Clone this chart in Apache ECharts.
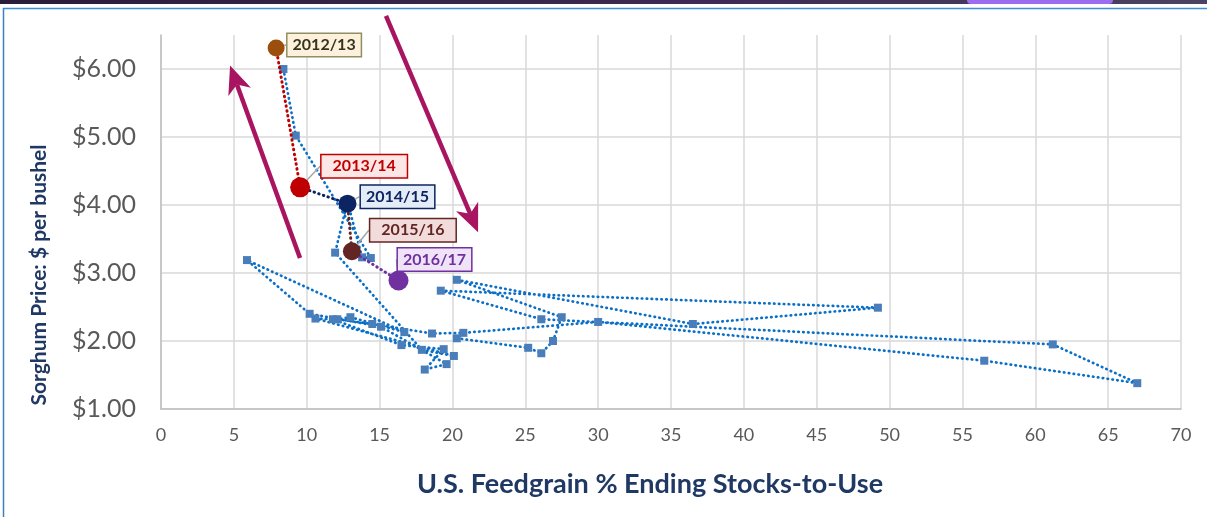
<!DOCTYPE html>
<html>
<head>
<meta charset="utf-8">
<title>Sorghum price vs feedgrain stocks-to-use</title>
<script src="https://cdn.jsdelivr.net/npm/echarts@6/dist/echarts.min.js"></script>
<style>
  html, body { margin: 0; padding: 0; background: #fff; }
  #chart { width: 1207px; height: 517px; }
</style>
</head>
<body>
<div id="chart"></div>
<script>
// historical path (blue), in drawing order
const histStocks = [20.3, 25.2, 26.1, 26.9, 27.5, 20.3, 36.5, 49.2, 19.2, 26.1, 61.2, 67.0, 56.5,
  30.0, 20.75, 18.6, 14.5, 12.1, 13.0, 16.7, 5.9, 10.2, 15.1, 19.6, 18.1, 19.4, 16.5,
  11.8, 10.6, 20.1, 17.9, 11.95, 12.8, 13.8, 14.4, 9.25, 8.4]
const histPrice = [2.04, 1.90, 1.82, 2.00, 2.35, 2.90, 2.25, 2.49, 2.74, 2.32, 1.95, 1.38, 1.71,
  2.28, 2.12, 2.11, 2.25, 2.32, 2.35, 2.13, 3.19, 2.40, 2.21, 1.66, 1.58, 1.88, 1.94,
  2.32, 2.33, 1.78, 1.87, 3.30, 4.05, 3.23, 3.22, 5.02, 6.00]

// recent marketing years
const recentYears = ['2012/13', '2013/14', '2014/15', '2015/16', '2016/17']
const recentStocks = [7.9, 9.55, 12.8, 13.1, 16.3]
const recentPrice = [6.31, 4.26, 4.02, 3.32, 2.89]

const xTicks = [0, 70, 5]
const yTicks = [1, 6.5, 1]

// look of each recent year
const yearLook = [
  { dot: '#9c4f0c', size: 17, text: '#34361c', fill: '#fdf0dc', border: '#8f8f62', pad: [3, 5], dx: 48, dy: -3 },
  { dot: '#c00000', size: 20, text: '#c00000', fill: '#fde6e6', border: '#c00000', pad: [3, 11], dx: 64, dy: -21 },
  { dot: '#0c2461', size: 18, text: '#0c2461', fill: '#e4ecf8', border: '#0c2461', pad: [3, 5], dx: 50, dy: -7 },
  { dot: '#632523', size: 18, text: '#632523', fill: '#f2dcdb', border: '#632523', pad: [3, 11], dx: 61, dy: -21 },
  { dot: '#7030a0', size: 20, text: '#7030a0', fill: '#efe4f7', border: '#7030a0', pad: [3, 5], dx: 36, dy: -21 }
]

const dots = (w) => ({ width: w, type: [0.5, 4.4], cap: 'round' })

const chart = echarts.init(document.getElementById('chart'))

const series = []
series.push({
  type: 'line',
  data: histStocks.map((x, i) => [x, histPrice[i]]),
  symbol: 'rect',
  symbolSize: 8,
  itemStyle: { color: '#4a7ebb', opacity: 1 },
  lineStyle: Object.assign({ color: '#0a6fc7' }, dots(2.7)),
  z: 2
})
for (let i = 1; i < recentYears.length; i++) {
  series.push({
    type: 'line',
    data: [[recentStocks[i - 1], recentPrice[i - 1]], [recentStocks[i], recentPrice[i]]],
    symbol: 'none',
    lineStyle: Object.assign({ color: yearLook[i].dot }, dots(3)),
    z: 3
  })
}
series.push({
  type: 'scatter',
  z: 5,
  data: recentYears.map((y, i) => ({
    name: y,
    value: [recentStocks[i], recentPrice[i]],
    symbolSize: yearLook[i].size,
    itemStyle: { color: yearLook[i].dot, opacity: 1 },
    label: {
      color: yearLook[i].text,
      backgroundColor: yearLook[i].fill,
      borderColor: yearLook[i].border,
      padding: yearLook[i].pad
    }
  })),
  label: {
    show: true,
    position: 'inside',
    formatter: '{b}',
    fontFamily: 'Lato',
    fontWeight: 'bold',
    fontSize: 16,
    borderWidth: 1.5
  },
  labelLine: { show: true, lineStyle: { color: '#a6a6a6', width: 1.5 } },
  labelLayout: (p) => ({ dx: yearLook[p.dataIndex].dx, dy: yearLook[p.dataIndex].dy })
})

chart.setOption({
  animation: false,
  grid: { left: 161, right: 26, top: 35, bottom: 108 },
  xAxis: {
    type: 'value',
    min: xTicks[0], max: xTicks[1], interval: xTicks[2],
    name: 'U.S. Feedgrain % Ending Stocks-to-Use',
    nameLocation: 'middle',
    nameGap: 62,
    nameTextStyle: { fontFamily: 'Lato', fontWeight: 'bold', fontSize: 27, color: '#1f3864', padding: [0, 42, 0, 0] },
    axisLine: { lineStyle: { color: '#bfbfbf', width: 1.5 } },
    axisTick: { show: false },
    axisLabel: { fontFamily: 'Lato', fontSize: 18, color: '#595959', margin: 17 },
    splitLine: { lineStyle: { color: '#d9d9d9', width: 1.5 } }
  },
  yAxis: {
    type: 'value',
    min: yTicks[0], max: yTicks[1], interval: yTicks[2],
    name: 'Sorghum Price: $ per bushel',
    nameLocation: 'middle',
    nameGap: 111,
    nameTextStyle: { fontFamily: 'Lato', fontWeight: 'bold', fontSize: 21, color: '#1f3864', padding: [0, 106, 0, 0] },
    axisLine: { show: true, lineStyle: { color: '#bfbfbf', width: 1.5 } },
    axisTick: { show: false },
    axisLabel: {
      fontFamily: 'Lato', fontSize: 25, color: '#595959', margin: 25,
      formatter: (v) => (Number.isInteger(v) ? '$' + v.toFixed(2) : '')
    },
    splitLine: { showMaxLine: false, lineStyle: { color: '#d9d9d9', width: 1.5 } }
  },
  series: series
})

// annotation arrows, placed in data space
function arrow(from, to) {
  const a = chart.convertToPixel({ gridIndex: 0 }, from)
  const b = chart.convertToPixel({ gridIndex: 0 }, to)
  const len = Math.hypot(b[0] - a[0], b[1] - a[1])
  const ux = (b[0] - a[0]) / len, uy = (b[1] - a[1]) / len
  const nx = -uy, ny = ux
  const headLen = 28, halfW = 12, notch = 20
  const col = '#a8145f'
  return [
    {
      type: 'line', z: 10,
      shape: { x1: a[0], y1: a[1], x2: b[0] - ux * notch, y2: b[1] - uy * notch },
      style: { stroke: col, lineWidth: 4.5 }
    },
    {
      type: 'polygon', z: 10,
      shape: {
        points: [
          b,
          [b[0] - ux * headLen + nx * halfW, b[1] - uy * headLen + ny * halfW],
          [b[0] - ux * notch, b[1] - uy * notch],
          [b[0] - ux * headLen - nx * halfW, b[1] - uy * headLen - ny * halfW]
        ]
      },
      style: { fill: col }
    }
  ]
}

chart.setOption({
  graphic: [
    {
      type: 'rect', shape: { x: 0, y: 0, width: 1207, height: 4 },
      style: {
        fill: new echarts.graphic.LinearGradient(0, 0, 1, 0, [
          { offset: 0, color: '#2a1c3b' }, { offset: 0.6, color: '#3f2a55' }, { offset: 1, color: '#4b4363' }
        ])
      }
    },
    { type: 'rect', shape: { x: 967, y: 0, width: 146, height: 4, r: [0, 0, 4, 4] }, style: { fill: '#9c6df0' } },
    { type: 'line', shape: { x1: 3, y1: 8.5, x2: 1207, y2: 8.5 }, style: { stroke: '#3b8fd6', lineWidth: 1.5 } },
    { type: 'line', shape: { x1: 3.5, y1: 8, x2: 3.5, y2: 517 }, style: { stroke: '#3b7fc4', lineWidth: 1.5 } }
  ].concat(arrow([9.54, 3.22], [4.74, 6.05]), arrow([15.44, 6.78], [21.76, 3.6]))
})
</script>
</body>
</html>
